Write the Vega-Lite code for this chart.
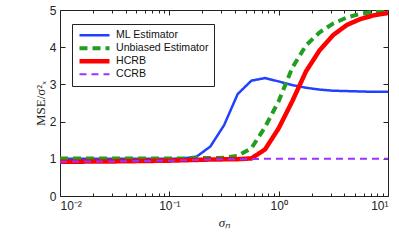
{
  "$schema": "https://vega.github.io/schema/vega-lite/v6.json",
  "width": 328,
  "height": 186,
  "autosize": "none",
  "padding": {"left": 60, "top": 10, "right": 11, "bottom": 44},
  "background": "white",
  "config": {
    "view": {"stroke": "#222", "strokeWidth": 1},
    "axis": {"grid": false, "domain": false, "labelFont": "Liberation Sans", "labelFontSize": 12, "labelColor": "#222", "tickColor": "#222", "titleColor": "#222"}
  },
  "data": {"values": [
    {"s": 0.01, "ML Estimator": 1.00, "Unbiased Estimator": 1.01, "HCRB": 0.92, "CCRB": 0.92},
    {"s": 0.013335, "ML Estimator": 1.00, "Unbiased Estimator": 1.01, "HCRB": 0.92, "CCRB": 0.925},
    {"s": 0.017783, "ML Estimator": 1.00, "Unbiased Estimator": 1.01, "HCRB": 0.925, "CCRB": 0.925},
    {"s": 0.023714, "ML Estimator": 1.00, "Unbiased Estimator": 1.01, "HCRB": 0.93, "CCRB": 0.93},
    {"s": 0.031623, "ML Estimator": 1.00, "Unbiased Estimator": 1.01, "HCRB": 0.93, "CCRB": 0.93},
    {"s": 0.04217, "ML Estimator": 1.00, "Unbiased Estimator": 1.01, "HCRB": 0.935, "CCRB": 0.935},
    {"s": 0.056234, "ML Estimator": 1.00, "Unbiased Estimator": 1.01, "HCRB": 0.94, "CCRB": 0.94},
    {"s": 0.074989, "ML Estimator": 1.00, "Unbiased Estimator": 1.01, "HCRB": 0.945, "CCRB": 0.945},
    {"s": 0.1, "ML Estimator": 1.00, "Unbiased Estimator": 1.01, "HCRB": 0.95, "CCRB": 0.95},
    {"s": 0.13335, "ML Estimator": 1.01, "Unbiased Estimator": 1.01, "HCRB": 0.96, "CCRB": 0.96},
    {"s": 0.17783, "ML Estimator": 1.06, "Unbiased Estimator": 1.02, "HCRB": 0.97, "CCRB": 0.97},
    {"s": 0.23714, "ML Estimator": 1.33, "Unbiased Estimator": 1.02, "HCRB": 0.98, "CCRB": 0.98},
    {"s": 0.31623, "ML Estimator": 1.9, "Unbiased Estimator": 1.03, "HCRB": 0.985, "CCRB": 0.985},
    {"s": 0.4217, "ML Estimator": 2.74, "Unbiased Estimator": 1.08, "HCRB": 0.99, "CCRB": 0.99},
    {"s": 0.56234, "ML Estimator": 3.10, "Unbiased Estimator": 1.28, "HCRB": 1.01, "CCRB": 0.995},
    {"s": 0.74989, "ML Estimator": 3.17, "Unbiased Estimator": 1.85, "HCRB": 1.25, "CCRB": 1.0},
    {"s": 1, "ML Estimator": 3.08, "Unbiased Estimator": 2.55, "HCRB": 1.82, "CCRB": 1.0},
    {"s": 1.3335, "ML Estimator": 2.98, "Unbiased Estimator": 3.45, "HCRB": 2.55, "CCRB": 1.0},
    {"s": 1.7783, "ML Estimator": 2.91, "Unbiased Estimator": 4.05, "HCRB": 3.35, "CCRB": 1.0},
    {"s": 2.3714, "ML Estimator": 2.86, "Unbiased Estimator": 4.4, "HCRB": 3.92, "CCRB": 1.0},
    {"s": 3.1623, "ML Estimator": 2.83, "Unbiased Estimator": 4.64, "HCRB": 4.33, "CCRB": 1.0},
    {"s": 4.217, "ML Estimator": 2.82, "Unbiased Estimator": 4.8, "HCRB": 4.6, "CCRB": 1.0},
    {"s": 5.6234, "ML Estimator": 2.81, "Unbiased Estimator": 4.9, "HCRB": 4.76, "CCRB": 1.0},
    {"s": 7.4989, "ML Estimator": 2.80, "Unbiased Estimator": 4.95, "HCRB": 4.86, "CCRB": 1.0},
    {"s": 10, "ML Estimator": 2.80, "Unbiased Estimator": 4.98, "HCRB": 4.92, "CCRB": 1.0}
  ]},
  "transform": [
    {"fold": ["ML Estimator", "Unbiased Estimator", "HCRB", "CCRB"], "as": ["series", "mse"]}
  ],
  "layer": [
    {
      "mark": {"type": "line", "clip": true},
      "encoding": {
        "x": {"field": "s", "type": "quantitative",
              "scale": {"type": "log", "domain": [0.01, 10], "nice": false},
              "axis": {"orient": "bottom", "values": [0.01, 0.1, 1, 10], "tickSize": -5, "labelPadding": 9,
                       "labelExpr": "datum.value == 0.01 ? '10⁻²' : datum.value == 0.1 ? '10⁻¹' : datum.value == 1 ? '10⁰' : '10¹'",
                       "title": "σₙ", "titleFont": "Liberation Serif", "titleFontStyle": "italic", "titleFontWeight": "normal", "titleFontSize": 13, "titlePadding": 5}},
        "y": {"field": "mse", "type": "quantitative",
              "scale": {"domain": [0, 5], "nice": false, "zero": false},
              "axis": {"orient": "left", "values": [0, 1, 2, 3, 4, 5], "tickSize": -5, "labelPadding": 9,
                       "title": "MSE/σ²ₓ", "titleFont": "Liberation Serif", "titleFontWeight": "normal", "titleFontSize": 13, "titlePadding": 2}},
        "color": {"field": "series", "type": "nominal",
                  "scale": {"domain": ["ML Estimator", "Unbiased Estimator", "HCRB", "CCRB"], "range": ["#2241ff", "#1f9e1f", "#ff0000", "#9933ff"]},
                  "legend": {"title": null, "orient": "none", "legendX": 12, "legendY": 14,
                             "symbolType": "M-1,0L1,0", "symbolSize": 900, "rowPadding": 0, "clipHeight": 12.5,
                             "labelFont": "Liberation Sans", "labelFontSize": 10.6, "labelColor": "#111", "labelOffset": 4,
                             "strokeColor": "#222", "fillColor": "white", "padding": 5}},
        "strokeDash": {"field": "series", "type": "nominal",
                       "scale": {"domain": ["ML Estimator", "Unbiased Estimator", "HCRB", "CCRB"], "range": [[1, 0], [8, 5], [1, 0], [7, 5]]}},
        "strokeWidth": {"field": "series", "type": "nominal",
                        "scale": {"type": "ordinal", "domain": ["ML Estimator", "Unbiased Estimator", "HCRB", "CCRB"], "range": [2.5, 4, 4.5, 2]}},
        "order": {"field": "s", "type": "quantitative"}
      }
    },
    {
      "mark": {"type": "line", "opacity": 0},
      "encoding": {
        "x": {"field": "s", "type": "quantitative",
              "axis": {"orient": "bottom", "values": [0.02,0.03,0.04,0.05,0.06,0.07,0.08,0.09,0.2,0.3,0.4,0.5,0.6,0.7,0.8,0.9,2,3,4,5,6,7,8,9], "tickSize": -3, "labels": false, "title": null}},
        "y": {"field": "mse", "type": "quantitative",
              "axis": {"orient": "right", "values": [0, 1, 2, 3, 4, 5], "tickSize": -5, "labels": false, "title": null}}
      }
    },
    {
      "mark": {"type": "line", "opacity": 0},
      "encoding": {
        "x": {"field": "s", "type": "quantitative",
              "axis": {"orient": "top", "values": [0.01, 0.1, 1, 10], "tickSize": -5, "labels": false, "title": null}},
        "y": {"field": "mse", "type": "quantitative", "axis": null}
      }
    },
    {
      "mark": {"type": "line", "opacity": 0},
      "encoding": {
        "x": {"field": "s", "type": "quantitative",
              "axis": {"orient": "top", "values": [0.02,0.03,0.04,0.05,0.06,0.07,0.08,0.09,0.2,0.3,0.4,0.5,0.6,0.7,0.8,0.9,2,3,4,5,6,7,8,9], "tickSize": -3, "labels": false, "title": null}},
        "y": {"field": "mse", "type": "quantitative", "axis": null}
      }
    }
  ],
  "resolve": {"axis": {"x": "independent", "y": "independent"}}
}
